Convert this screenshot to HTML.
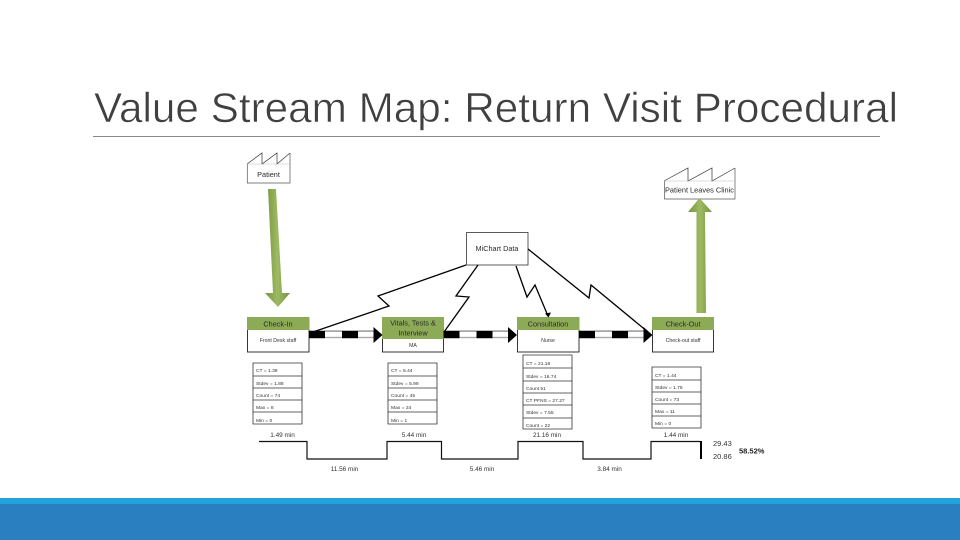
<!DOCTYPE html>
<html>
<head>
<meta charset="utf-8">
<style>
html,body{margin:0;padding:0;background:#fff;width:960px;height:540px;overflow:hidden}
svg{display:block}
text{font-family:"Liberation Sans",sans-serif;fill:#222}
.s{font-size:4.9px;fill:#333;filter:url(#b)}
.m{font-size:7.3px;text-anchor:middle;fill:#2a2a2a;filter:url(#b)}
.t{font-size:5.2px;text-anchor:middle;fill:#333;filter:url(#b)}
.l{font-size:6.4px;text-anchor:middle;fill:#333;filter:url(#b)}
</style>
</head>
<body>
<svg width="960" height="540" viewBox="0 0 960 540" xmlns="http://www.w3.org/2000/svg">
<defs>
<filter id="b" x="-10%" y="-20%" width="120%" height="140%"><feGaussianBlur stdDeviation="0.3"/></filter>
<linearGradient id="gh" x1="0" x2="1" y1="0" y2="0"><stop offset="0" stop-color="#76933f"/><stop offset=".5" stop-color="#9dbb62"/><stop offset="1" stop-color="#76933f"/></linearGradient>
</defs>
<rect width="960" height="540" fill="#fff"/>
<text x="94" y="122" font-size="42" textLength="804" lengthAdjust="spacingAndGlyphs" style="fill:#404040;stroke:#fff;stroke-width:.55">Value Stream Map: Return Visit Procedural</text>
<rect x="93" y="136" width="787" height="1" fill="#8a8a8a"/>
<rect x="0" y="498" width="960" height="6" fill="#20a4da"/>
<rect x="0" y="504" width="960" height="36" fill="#2a7fc1"/>

<!-- Factories -->
<g fill="none" stroke="#333" stroke-width=".7">
<path d="M247 164L262 153V164L277 153V164L290 153"/>
<path d="M247.300 164V183H290V153" stroke="#555"/>
<path d="M664 181L688 168V181L712 168V181L735 168"/>
<path d="M664.500 181V199H735V168" stroke="#555"/>
</g>
<path d="M247 164H290M664 181H735" stroke="#bbb" stroke-width=".6" fill="none"/>
<text x="268.500" y="177" class="m">Patient</text>
<text x="699.500" y="192.500" class="m" style="font-size:7.4px">Patient Leaves Clinic</text>

<!-- Green arrows -->
<path d="M268 189L276 189L282 293H290L278 307L265 293H273Z" fill="url(#gh)"/>
<path d="M696.500 313L696.500 212H688L699.500 198L712 212H705L706 313Z" fill="url(#gh)"/>

<!-- Process boxes -->
<g stroke="#222" stroke-width=".9" fill="#fff">
<rect x="247.500" y="317.500" width="61.500" height="34.500"/>
<rect x="382.500" y="317.500" width="61" height="34.500"/>
<rect x="517.500" y="317.500" width="61.500" height="34.500"/>
<rect x="652.500" y="317.500" width="61" height="34.500"/>
</g>
<g fill="#8dab57">
<rect x="247" y="317" width="62.500" height="13"/>
<rect x="382" y="317" width="62" height="22"/>
<rect x="517" y="317" width="62.500" height="13"/>
<rect x="652" y="317" width="62" height="13"/>
</g>
<text x="278" y="326.500" class="m">Check-In</text>
<text x="413" y="325.500" class="m">Vitals, Tests &amp;</text>
<text x="413" y="335.500" class="m">Interview</text>
<text x="548" y="326.500" class="m">Consultation</text>
<text x="683" y="326.500" class="m">Check-Out</text>
<text x="278" y="342" class="t">Front Desk staff</text>
<text x="413" y="347" class="t">MA</text>
<text x="548" y="342" class="t">Nurse</text>
<text x="683" y="342" class="t">Check-out staff</text>

<!-- Push arrows -->
<g>
<g id="pa">
<rect x="309" y="331" width="65" height="7" fill="#fff"/>
<rect x="309" y="330.700" width="65" height=".7" fill="#222"/>
<rect x="309" y="336.800" width="65" height="1.400" fill="#aaa"/>
<rect x="309" y="331" width="16" height="7.200" fill="#000"/>
<rect x="342" y="331" width="16" height="7.200" fill="#000"/>
<path d="M373.500 327L382.500 335L373.500 343Z" fill="#000"/>
</g>
<use href="#pa" x="134.500"/>
<use href="#pa" x="270"/>
</g>

<!-- MiChart -->
<rect x="466.500" y="232.500" width="61.500" height="32.500" fill="#fff" stroke="#333" stroke-width=".8"/>
<text x="497" y="251" class="m">MiChart Data</text>

<!-- Lightning -->
<g fill="none" stroke="#000" stroke-width="1.300">
<path d="M466 265L378 296L389 306L310 333"/>
<path d="M478 265L456 296L469 297L444 332"/>
<path d="M516 266L527 297L535 285L548 316"/>
<path d="M528 249L589 298L591 285L648 332"/>
</g>
<path d="M545 313.500L551 312.500L548.500 317.500Z" fill="#000"/>

<!-- Tables -->
<g fill="none" stroke="#333" stroke-width=".8">
<path d="M253 363H302V424H253ZM253 376H302M253 388H302M253 400H302M253 412H302"/>
<path d="M388 363H437V424H388ZM388 376H437M388 388H437M388 400H437M388 412H437"/>
<path d="M523 355H572V429H523ZM523 368H572M523 381H572M523 393H572M523 405H572M523 418H572"/>
<path d="M652 367H701V428H652ZM652 380H701M652 392H701M652 404H701M652 416H701"/>
</g>
<g>
<text x="256" y="372" class="s">CT = 1.39</text>
<text x="256" y="385" class="s">Stdev = 1.88</text>
<text x="256" y="397" class="s">Count = 74</text>
<text x="256" y="409" class="s">Max = 8</text>
<text x="256" y="422" class="s">Min = 0</text>
<text x="391" y="372" class="s">CT = 5.44</text>
<text x="391" y="385" class="s">Stdev = 5.99</text>
<text x="391" y="397" class="s">Count = 45</text>
<text x="391" y="409" class="s">Max = 24</text>
<text x="391" y="422" class="s">Min = 1</text>
<text x="526" y="365" class="s">CT = 21.16</text>
<text x="526" y="378" class="s">Stdev = 16.74</text>
<text x="526" y="390" class="s">Count 51</text>
<text x="526" y="402" class="s">CT PFNS = 27.27</text>
<text x="526" y="414" class="s">Stdev = 7.55</text>
<text x="526" y="427" class="s">Count = 22</text>
<text x="655" y="377" class="s">CT = 1.44</text>
<text x="655" y="389" class="s">Stdev = 1.75</text>
<text x="655" y="401" class="s">Count = 73</text>
<text x="655" y="413" class="s">Max = 11</text>
<text x="655" y="425" class="s">Min = 0</text>
</g>

<!-- Timeline -->
<path d="M259 441.500H307V459H387V441.500H441.500V459H518V441.500H583V459H651V441.500H700.500" fill="none" stroke="#111" stroke-width="1.200"/>
<rect x="700" y="441" width="2" height="18" fill="#000"/>
<g>
<text x="282.500" y="437" class="l">1.49 min</text>
<text x="414" y="437" class="l">5.44 min</text>
<text x="547" y="437" class="l">21.16 min</text>
<text x="676" y="437" class="l">1.44 min</text>
<text x="344.500" y="471" class="l">11.56 min</text>
<text x="482" y="471" class="l">5.46 min</text>
<text x="609.500" y="471" class="l">3.84 min</text>
</g>
<text x="713" y="446" class="s" style="font-size:7.500px">29.43</text>
<text x="713" y="459" class="s" style="font-size:7.500px">20.86</text>
<text x="739" y="453.500" class="s" style="font-size:7.500px;font-weight:bold;fill:#222">58.52%</text>
</svg>
</body>
</html>
